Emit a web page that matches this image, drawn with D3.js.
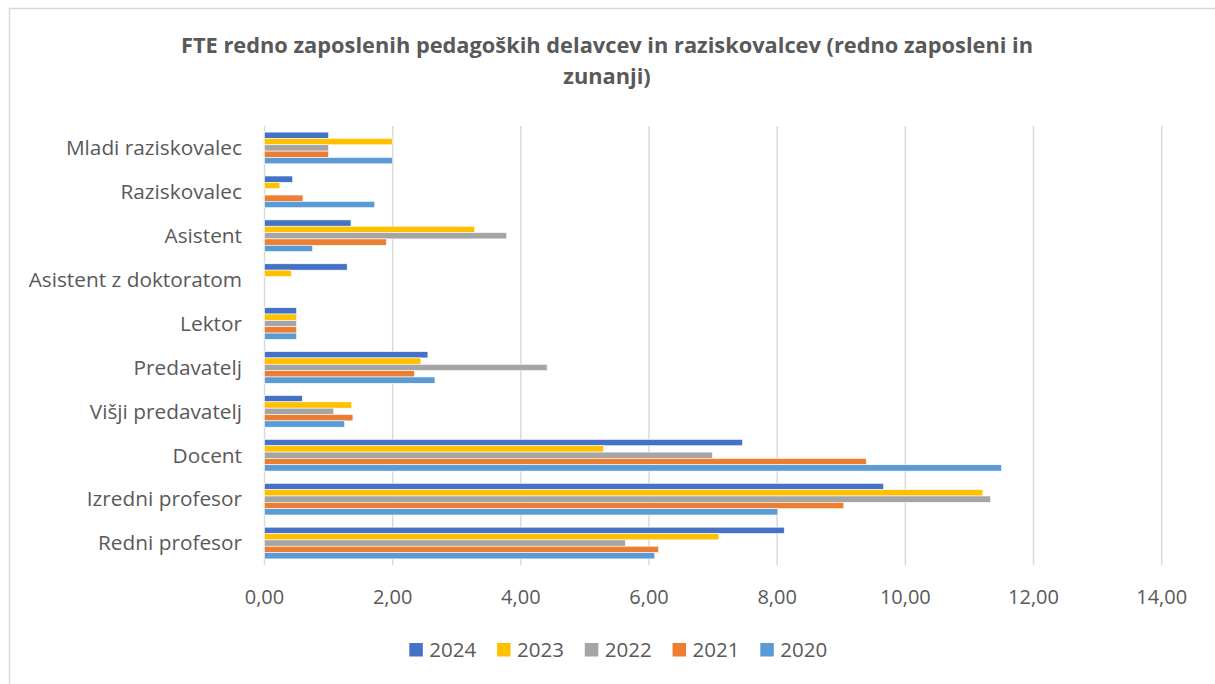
<html>
<head>
<meta charset="utf-8">
<script src="https://d3js.org/d3.v7.min.js"></script>
<style>
  body { margin: 0; background: #fff; }
  text { font-family: "Open Sans", Lato, sans-serif; fill: #595959; }
</style>
</head>
<body>
<svg width="1215" height="684"></svg>
<script>

var categories = ["Mladi raziskovalec", "Raziskovalec", "Asistent", "Asistent z doktoratom", "Lektor",
                  "Predavatelj", "Višji predavatelj", "Docent", "Izredni profesor", "Redni profesor"];
var years = ["2024", "2023", "2022", "2021", "2020"];
var colors = ["#4472C4", "#FFC000", "#A5A5A5", "#ED7D31", "#5B9BD5"];

var v2024 = [1.00, 0.44, 1.35, 1.29, 0.50, 2.55, 0.59, 7.46, 9.66, 8.11];
var v2023 = [2.00, 0.24, 3.28, 0.42, 0.50, 2.44, 1.36, 5.29, 11.21, 7.09];
var v2022 = [1.00, 0.00, 3.78, 0.00, 0.50, 4.41, 1.08, 6.99, 11.33, 5.63];
var v2021 = [1.00, 0.60, 1.90, 0.00, 0.50, 2.34, 1.38, 9.39, 9.04, 6.15];
var v2020 = [2.00, 1.72, 0.75, 0.00, 0.50, 2.66, 1.25, 11.50, 8.01, 6.09];

var xTicks = [0, 2, 4, 6, 8, 10, 12, 14];

var series = [v2024, v2023, v2022, v2021, v2020];

var svg = d3.select("svg");

// chart frame
svg.append("rect")
  .attr("x", 9.5).attr("y", 8.5)
  .attr("width", 1220).attr("height", 690)
  .attr("fill", "none").attr("stroke", "#d9d9d9").attr("stroke-width", 1.5);

// title
var title = svg.append("text")
  .attr("text-anchor", "middle")
  .style("font-size", "21.8px")
  .style("font-weight", "bold");
title.append("tspan").attr("x", 607).attr("y", 53)
  .text("FTE redno zaposlenih pedagoških delavcev in raziskovalcev (redno zaposleni in");
title.append("tspan").attr("x", 607).attr("y", 84).text("zunanji)");

var x = d3.scaleLinear().domain([0, 14]).range([264.5, 1161.7]);
var y = d3.scaleBand().domain(categories).range([126, 565]);
var yInner = d3.scaleBand().domain(years).range([6.1, y.bandwidth() - 6.1]);

// gridlines
svg.append("g")
  .selectAll("line")
  .data(xTicks)
  .enter().append("line")
    .attr("x1", function(d) { return x(d); })
    .attr("x2", function(d) { return x(d); })
    .attr("y1", 126).attr("y2", 565)
    .attr("stroke", "#d9d9d9").attr("stroke-width", 1.5);

// bars
var groups = svg.append("g")
  .selectAll("g")
  .data(series)
  .enter().append("g")
    .attr("fill", function(d, i) { return colors[i]; });

groups.selectAll("rect")
  .data(function(d, i) { return d.map(function(v, j) { return { v: v, cat: categories[j], year: years[i] }; }); })
  .enter().filter(function(d) { return d.v > 0; }).append("rect")
    .attr("x", x(0))
    .attr("y", function(d) { return y(d.cat) + yInner(d.year); })
    .attr("width", function(d) { return x(d.v) - x(0); })
    .attr("height", yInner.bandwidth())
    .attr("stroke", "#ffffff").attr("stroke-width", 0.6);

// x axis labels
var fmt = function(d) { return d3.format(".2f")(d).replace(".", ","); };
svg.append("g")
  .selectAll("text")
  .data(xTicks)
  .enter().append("text")
    .attr("x", function(d) { return x(d); })
    .attr("y", 604)
    .attr("text-anchor", "middle")
    .style("font-size", "20px")
    .text(fmt);

// category labels
svg.append("g")
  .selectAll("text")
  .data(categories)
  .enter().append("text")
    .attr("x", 242)
    .attr("y", function(d) { return y(d) + y.bandwidth() / 2; })
    .attr("dy", "0.35em")
    .attr("text-anchor", "end")
    .style("font-size", "20.8px")
    .text(function(d) { return d; });

// legend
var legend = svg.append("g")
  .selectAll("g")
  .data(years)
  .enter().append("g")
    .attr("transform", function(d, i) { return "translate(" + (409.3 + i * 87.75) + ",643)"; });

legend.append("rect")
  .attr("width", 13.5).attr("height", 13.5)
  .attr("fill", function(d, i) { return colors[i]; });

legend.append("text")
  .attr("x", 20).attr("y", 14)
  .style("font-size", "20.5px")
  .text(function(d) { return d; });

</script>
</body>
</html>
